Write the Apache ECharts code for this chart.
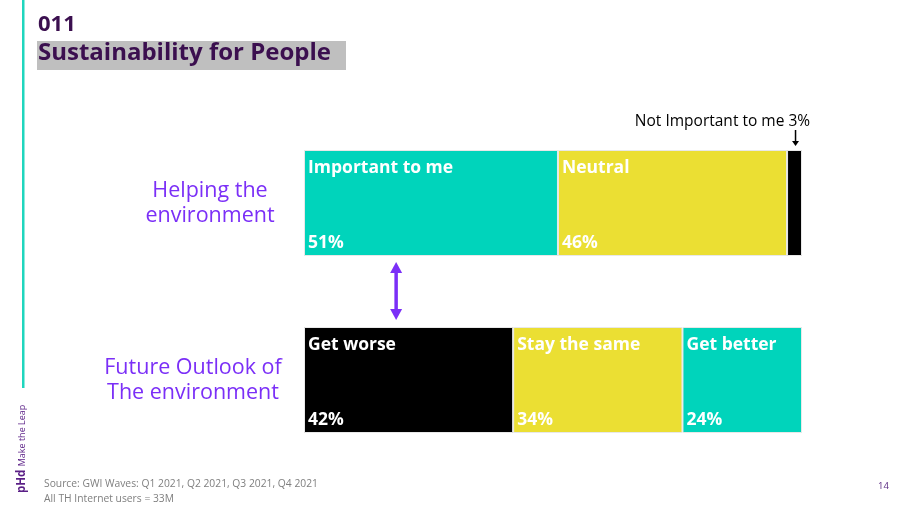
<!DOCTYPE html>
<html><head><meta charset="utf-8">
<script src="https://cdn.jsdelivr.net/npm/echarts@6/dist/echarts.min.js"></script>
<style>html,body{margin:0;padding:0;background:#fff}#c{width:900px;height:508px}</style>
</head><body><div id="c"></div>
<script>
// ---- data ----
const categories = ['Helping the\nenvironment', 'Future Outlook of\nThe environment'];
const topNames = ['Important to me', 'Neutral', 'Not Important to me'];
const topValues = [51, 46, 3];
const bottomNames = ['Get worse', 'Stay the same', 'Get better'];
const bottomValues = [42, 34, 24];

const TEAL = '#00d4bb', YELLOW = '#ebdf33', BLACK = '#000000', PURPLE = '#7b2ff7';
const topColors = [TEAL, YELLOW, BLACK];
const bottomColors = [BLACK, YELLOW, TEAL];

function innerLabel(name, v) {
  return {
    show: true, position: [4, 8], align: 'left', verticalAlign: 'top',
    formatter: '{n|' + name + '}\n{g| }\n{p|' + v + '%}',
    rich: {
      n: {color: '#fff', fontSize: 17.5, fontWeight: 'bold', fontFamily: 'Open Sans', lineHeight: 20},
      g: {lineHeight: 55, fontSize: 10},
      p: {color: '#fff', fontSize: 17.5, fontWeight: 'bold', fontFamily: 'Open Sans', lineHeight: 20}
    }
  };
}

const series = [0, 1, 2].map(i => ({
  type: 'bar', stack: 'all', barWidth: 106, animation: false,
  data: [
    {
      value: topValues[i],
      itemStyle: {color: topColors[i], borderColor: '#e8e8e8', borderWidth: 1},
      label: i < 2 ? innerLabel(topNames[i], topValues[i]) : {
        show: true, position: [23, -36], align: 'right', verticalAlign: 'top',
        formatter: topNames[i] + ' ' + topValues[i] + '%',
        color: '#000', fontSize: 15.5, fontFamily: 'Open Sans'
      }
    },
    {
      value: bottomValues[i],
      itemStyle: {color: bottomColors[i], borderColor: '#e8e8e8', borderWidth: 1},
      label: innerLabel(bottomNames[i], bottomValues[i])
    }
  ]
}));

const chart = echarts.init(document.getElementById('c'), null, {renderer: 'canvas'});
chart.setOption({
  backgroundColor: '#fff',
  animation: false,
  grid: {left: 304, right: 98, top: 114.5, bottom: 39.5},
  xAxis: {type: 'value', min: 0, max: 100, show: false},
  yAxis: {
    type: 'category', data: categories, inverse: true,
    axisLine: {show: false}, axisTick: {show: false}, splitLine: {show: false},
    axisLabel: {
      margin: 20,
      formatter: (v, idx) => idx === 0 ? '{a|' + v + '}' : '{b|' + v + '}',
      rich: {
        a: {width: 148, align: 'center', color: PURPLE, fontSize: 21.5, fontFamily: 'Open Sans', lineHeight: 25},
        b: {width: 182, align: 'center', color: PURPLE, fontSize: 21.5, fontFamily: 'Open Sans', lineHeight: 25}
      }
    }
  },
  series: series
});

// annotation arrows positioned through the chart's own scales
const halfBar = 53;
const pNot = chart.convertToPixel({gridIndex: 0}, [topValues[0] + topValues[1] + topValues[2] / 2, 0]);
const pTop = chart.convertToPixel({gridIndex: 0}, [18.5, 0]);
const pBot = chart.convertToPixel({gridIndex: 0}, [18.5, 1]);
const xN = pNot[0] + 1, yN0 = pNot[1] - halfBar - 20, yN1 = pNot[1] - halfBar - 4;
const xA = pTop[0], yA0 = pTop[1] + halfBar + 6, yA1 = pBot[1] - halfBar - 7;

chart.setOption({graphic: [
  {type: 'rect', shape: {x: 22, y: 0, width: 2.5, height: 388}, style: {fill: '#1fd6be'}},
  {type: 'rect', shape: {x: 37, y: 41, width: 309, height: 29}, style: {fill: '#bfbfbf'}},
  {type: 'text', x: 38, y: 14, style: {text: '011', fill: '#3b0f4f', font: 'bold 22px "Open Sans"'}},
  {type: 'text', x: 38, y: 41, style: {text: 'Sustainability for People', fill: '#3b0f4f', font: 'bold 24px "Open Sans"'}},
  {type: 'text', x: 44, y: 479, style: {text: 'Source: GWI Waves: Q1 2021, Q2 2021, Q3 2021, Q4 2021', fill: '#7f7f7f', font: '10.3px "Open Sans"'}},
  {type: 'text', x: 44, y: 494, style: {text: 'All TH Internet users = 33M', fill: '#7f7f7f', font: '10.3px "Open Sans"'}},
  {type: 'text', x: 878, y: 481, style: {text: '14', fill: '#5a2a82', font: '9.5px "Open Sans"'}},
  {type: 'text', x: 16, y: 493, rotation: Math.PI / 2, style: {
    text: '{p|pHd} {m|Make the Leap}', verticalAlign: 'top', align: 'left',
    rich: {
      p: {fill: '#5a1f86', fontWeight: 'bold', fontSize: 11.5, fontFamily: 'Open Sans'},
      m: {fill: '#5a1f86', fontSize: 9, fontFamily: 'Open Sans'}
    }}},
  {type: 'line', shape: {x1: xN, y1: yN0, x2: xN, y2: yN1 - 4}, style: {stroke: '#000', lineWidth: 1.5}},
  {type: 'polygon', shape: {points: [[xN - 3.5, yN1 - 5], [xN + 3.5, yN1 - 5], [xN, yN1]]}, style: {fill: '#000'}},
  {type: 'line', shape: {x1: xA, y1: yA0 + 8, x2: xA, y2: yA1 - 8}, style: {stroke: PURPLE, lineWidth: 3.5}},
  {type: 'polygon', shape: {points: [[xA - 6, yA0 + 11], [xA + 6, yA0 + 11], [xA, yA0]]}, style: {fill: PURPLE}},
  {type: 'polygon', shape: {points: [[xA - 6, yA1 - 11], [xA + 6, yA1 - 11], [xA, yA1]]}, style: {fill: PURPLE}}
]});
</script>
</body></html>
